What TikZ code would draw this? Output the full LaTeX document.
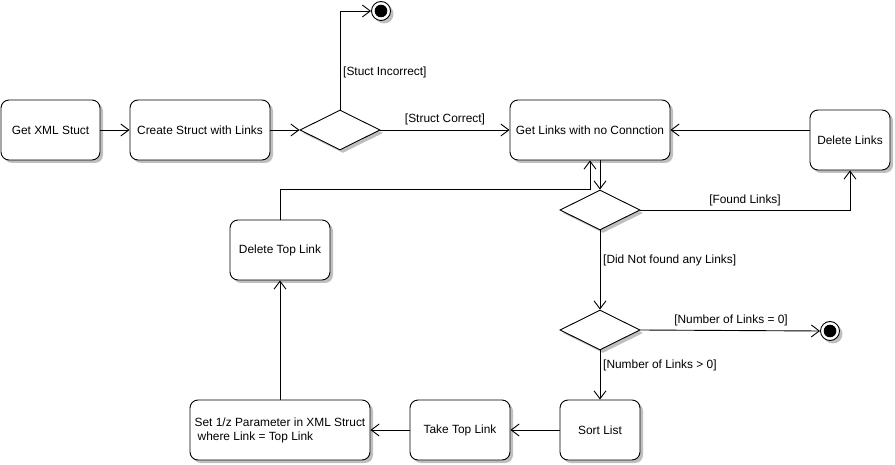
\documentclass[tikz,border=0pt]{standalone}
\usepackage{fontspec}
\setmainfont{Liberation Sans}
\usetikzlibrary{arrows.meta,shapes.geometric,shadows}
\begin{document}
\begin{tikzpicture}[x=1pt,y=-1pt,
  font=\fontsize{11.9}{14}\selectfont,
  shad/.style={drop shadow={shadow xshift=3pt,shadow yshift=-3pt,fill=black!25,opacity=1}},
  act/.style={draw,line width=0.9pt,fill=white,rounded corners=8pt,minimum height=60pt,inner sep=2pt,shad},
  dec/.style={diamond,draw,line width=0.9pt,fill=white,minimum width=80pt,minimum height=40pt,inner sep=0pt,aspect=2,shad},
  final/.style={circle,draw,line width=0.9pt,fill=white,minimum size=19pt,inner sep=0pt,shad,
    path picture={\fill[black] (path picture bounding box.center) circle (6.3pt);}},
  flow/.style={draw,line width=0.9pt,-{Straight Barb[length=8pt,width=12pt,line width=0.9pt]}},
  lbl/.style={inner sep=0pt}
]
\useasboundingbox (0,0) rectangle (895,465);
% activities
\node[act,minimum width=99pt] (xml) at (50.5,130) {Get XML Stuct};
\node[act,minimum width=140pt] (create) at (200,130) {Create Struct with Links};
\node[dec] (d1) at (340,130) {};
\node[final] (f1) at (381,11) {};
\node[act,minimum width=160pt] (get) at (590,130) {Get Links with no Connction};
\node[act,minimum width=80pt] (del) at (850,140) {Delete Links};
\node[dec] (d2) at (600,210) {};
\node[dec] (d3) at (600,330) {};
\node[final] (f2) at (830,331) {};
\node[act,minimum width=100pt] (dtl) at (280,250) {Delete Top Link};
\node[act,minimum width=80pt] (sort) at (600,430) {Sort List};
\node[act,minimum width=100pt] (take) at (460,430) {Take Top Link};
\node[act,minimum width=180pt,align=left] (set) at (280,430) {Set 1/z Parameter in XML Struct\\\hspace{3pt}where Link = Top Link};
% flows
\draw[flow] (xml.east) -- (create.west);
\draw[flow] (create.east) -- (d1.west);
\draw[flow] (d1.north) |- (f1.west);
\node[lbl,anchor=west] (l1) at (343,72) {[Stuct Incorrect]};
\draw[flow] (d1.east) -- (get.west);
\node[lbl] (l2) at (445,119) {[Struct Correct]};
\draw[flow] (del.west |- get.east) -- (get.east);
\draw[flow] (get.south -| d2.north) -- (d2.north);
\draw[flow] (dtl.north) -- ++(0,-30) -| (get.south);
\draw[flow] (d2.east) -| (del.south);
\node[lbl] (l3) at (745,200) {[Found Links]};
\draw[flow] (d2.south) -- (d3.north);
\node[lbl,anchor=west] (l4) at (603,260) {[Did Not found any Links]};
\draw[flow] (d3.east) -- (f2.west);
\node[lbl] (l5) at (731,320) {[Number of Links = 0]};
\draw[flow] (d3.south) -- (sort.north);
\node[lbl,anchor=west] (l6) at (603,365) {[Number of Links > 0]};
\draw[flow] (sort.west) -- (take.east);
\draw[flow] (take.west) -- (set.east);
\draw[flow] (set.north) -- (dtl.south);
\end{tikzpicture}
\end{document}
